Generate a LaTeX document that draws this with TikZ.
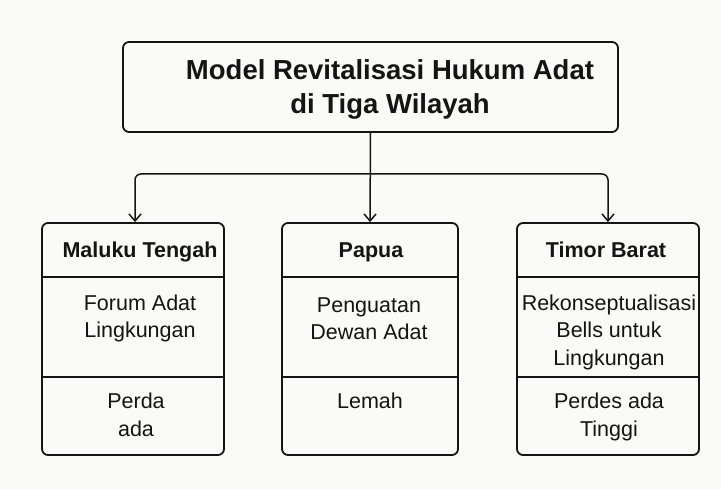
\documentclass[tikz,border=0pt]{standalone}
\usepackage{fontspec}
\setmainfont{Liberation Sans}
\usetikzlibrary{arrows.meta}
\definecolor{bg}{RGB}{250,250,248}
\definecolor{ink}{RGB}{20,20,20}
\tikzset{
  box/.style={draw=ink, line width=1.8pt, rounded corners=6pt, inner sep=0pt},
  divider/.style={draw=ink, line width=1.5pt},
  conn/.style={draw=ink, line width=1.5pt, -{Straight Barb[length=7pt,width=12pt]}, rounded corners=6pt},
  titletext/.style={text=ink, font=\fontsize{27.5}{34}\selectfont\bfseries, align=center, inner sep=0pt},
  headtext/.style={text=ink, font=\fontsize{21.5}{27}\selectfont\bfseries, anchor=base, inner sep=0pt},
  bodytext/.style={text=ink, font=\fontsize{21.5}{27.5}\selectfont, align=center, inner sep=0pt},
}
\begin{document}
\begin{tikzpicture}[x=1pt,y=1pt]
\fill[bg] (0,0) rectangle (721,-489);
\useasboundingbox (0,0) rectangle (721,-489);

% top box
\node[box, minimum width=495pt, minimum height=90pt] (top) at (370.5,-87) {};
\node[titletext] (title) at (390,-89) {Model Revitalisasi Hukum Adat\\di Tiga Wilayah};

% column boxes
\node[box, minimum width=182pt, minimum height=232pt] (left) at (133,-339) {};
\node[box, minimum width=176pt, minimum height=232pt] (mid) at (370,-339) {};
\node[box, minimum width=182pt, minimum height=232pt] (right) at (608,-339) {};

% dividers
\foreach \b in {left,mid,right}{
  \draw[divider] ([yshift=-55pt]\b.north west) -- ([yshift=-55pt]\b.north east);
  \draw[divider] ([yshift=-155pt]\b.north west) -- ([yshift=-155pt]\b.north east);
}

% connectors
\coordinate (hub) at (370.5,-174);
\draw[conn] (top.south) -- (mid.north);
\draw[conn] (hub) -| ([xshift=2pt]left.north);
\draw[conn] (hub) -| (right.north);

% headers
\node[headtext] (lh) at (140,-257.5) {Maluku Tengah};
\node[headtext] (mh) at (371,-257.5) {Papua};
\node[headtext] (rh) at (606,-257.5) {Timor Barat};

% bodies
\node[bodytext] (lb1) at (140,-318.5) {Forum Adat\\Lingkungan};
\node[bodytext] (lb2) at (136,-415) {Perda\\ada};
\node[bodytext] (mb1) at (369,-318.5) {Penguatan\\Dewan Adat};
\node[bodytext, anchor=base] (mb2) at (370,-408.5) {Lemah};
\node[bodytext] (rb1) at (609,-332) {Rekonseptualisasi\\Bells untuk\\Lingkungan};
\node[bodytext] (rb2) at (609,-417) {Perdes ada\\Tinggi};
\end{tikzpicture}
\end{document}
